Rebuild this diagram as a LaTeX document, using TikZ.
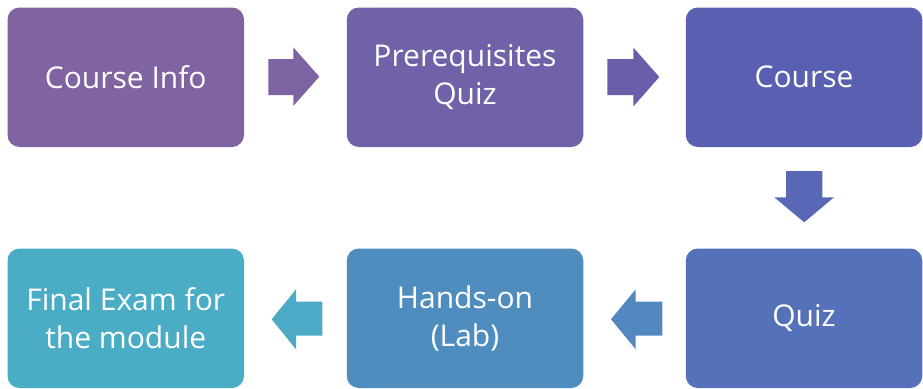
\documentclass[tikz,border=0pt]{standalone}
\usepackage{fontspec}
\setmainfont{Open Sans}
\definecolor{bA}{HTML}{8064A2}
\definecolor{bB}{HTML}{7061A9}
\definecolor{bC}{HTML}{5A60B1}
\definecolor{bD}{HTML}{5571BA}
\definecolor{bE}{HTML}{4F8DBF}
\definecolor{bF}{HTML}{4BACC6}
\definecolor{aA}{HTML}{7E63A3}
\definecolor{aB}{HTML}{6A5EAB}
\definecolor{aC}{HTML}{5968B6}
\definecolor{aD}{HTML}{5287C0}
\definecolor{aE}{HTML}{4CAAC6}
\tikzset{
  stagebox/.style={rectangle, rounded corners=12pt, minimum width=236.5pt, minimum height=139.5pt,
    text=white, align=center, inner sep=0pt,
    font=\fontsize{30}{37.5}\selectfont},
}
\begin{document}
\begin{tikzpicture}[x=1pt,y=-1pt]
\useasboundingbox (0,0) rectangle (923,388);
\node[stagebox, fill=bA] (info) at (125.75,77.25) {Course Info};
\node[stagebox, fill=bB] (prereq) at (465,77.25) {Prerequisites\\Quiz};
\node[stagebox, fill=bC] (course) at (804,77.25) {Course};
\node[stagebox, fill=bD] (quiz) at (804,318.25) {Quiz};
\node[stagebox, fill=bE] (lab) at (465,318.25) {Hands-on\\(Lab)};
\node[stagebox, fill=bF] (final) at (125.75,318.25) {Final Exam for\\the module};
% right arrows
\fill[aA] (268.3,59) -- (293.3,59) -- (293.3,47.3) -- (319.3,76.7) -- (293.3,106) -- (293.3,95) -- (268.3,95) -- cycle;
\fill[aB] (607.3,59) -- (633.3,59) -- (633.3,47.5) -- (659.3,77) -- (633.3,106.5) -- (633.3,95) -- (607.3,95) -- cycle;
% down arrow
\fill[aC] (786,171) -- (822.3,171) -- (822.3,197.3) -- (834,197.3) -- (804.2,222.3) -- (774.3,197.3) -- (786,197.3) -- cycle;
% left arrows
\fill[aD] (662.3,301.5) -- (635.7,301.5) -- (635.7,289.3) -- (611,319.3) -- (635.7,349.3) -- (635.7,335.5) -- (662.3,335.5) -- cycle;
\fill[aE] (322.3,301.5) -- (296,301.5) -- (296,289.3) -- (271.7,319.3) -- (296,349.3) -- (296,335.5) -- (322.3,335.5) -- cycle;
\end{tikzpicture}
\end{document}
